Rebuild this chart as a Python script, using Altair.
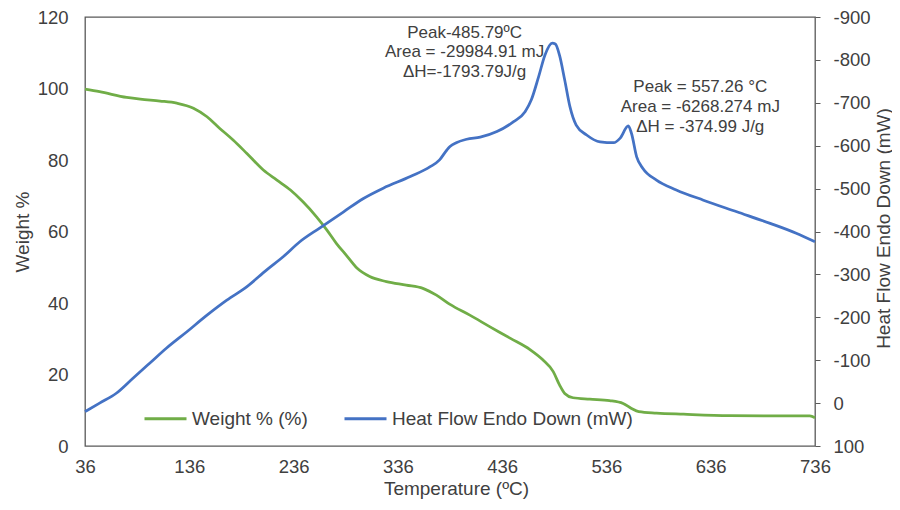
import altair as alt
import pandas as pd

FONT = "Liberation Sans"
GREEN = "#70AD47"
BLUE = "#4472C4"
TXT = "#404040"

# Weight % curve (temperature in °C, weight %)
temp_w = [36, 50, 76, 89, 108, 124, 140, 153, 165, 178,
          191, 207, 220, 233, 245, 258, 268, 277, 287, 297,
          309, 325, 344, 360, 373, 386, 405, 424, 444, 463,
          475, 485, 491, 496, 504, 520, 539, 552, 560, 567,
          584, 610, 654, 705, 731, 736]
weight = [99.8, 99.1, 97.5, 97.0, 96.5, 95.9, 94.5, 92.1, 88.9, 85.6,
          81.9, 77.2, 74.4, 71.6, 68.3, 64.1, 60.4, 56.7, 53.2, 49.7,
          47.4, 46.0, 45.0, 44.1, 42.2, 39.6, 36.6, 33.4, 30.1, 26.9,
          24.1, 20.8, 17.1, 14.7, 13.5, 13.1, 12.7, 11.9, 10.5, 9.6,
          9.2, 8.9, 8.5, 8.4, 8.4, 7.9]

# Heat flow curve (temperature in °C, mW)
temp_h = [36, 50, 66, 82, 98, 114, 134, 153, 172, 191,
          210, 226, 242, 261, 284, 303, 322, 348, 367, 376,
          383, 386, 392, 402, 415, 431, 447, 458, 464, 471,
          477, 484, 487, 491, 496, 501, 507, 517, 530, 543,
          549, 557, 560, 565, 571, 584, 603, 629, 661, 693,
          718, 736]
heat = [20, 0, -23, -58, -93, -128, -167, -205, -240, -271,
        -310, -341, -376, -408, -446, -477, -501, -528, -551, -567,
        -590, -598, -607, -615, -620, -633, -656, -679, -707, -761,
        -811, -839, -837, -811, -753, -691, -648, -625, -609, -607,
        -617, -646, -629, -574, -547, -520, -497, -473, -446, -419,
        -396, -376]

series_names = ["Weight % (%)", "Heat Flow Endo Down (mW)"]

x_ticks = [36, 136, 236, 336, 436, 536, 636, 736]
w_ticks = [0, 20, 40, 60, 80, 100, 120]
h_ticks = [-900, -800, -700, -600, -500, -400, -300, -200, -100, 0, 100]

# Annotations (anchored in temperature / weight % units)
ann_text = ["Peak-485.79ºC", "Area = -29984.91 mJ", "ΔH=-1793.79J/g",
            "Peak = 557.26 °C", "Area = -6268.274 mJ", "ΔH = -374.99 J/g"]
ann_t = [400, 400, 400, 626, 626, 626]
ann_w = [115.5, 110.1, 104.6, 100.3, 94.7, 89.1]

wdf = pd.DataFrame({"T": temp_w, "W": weight, "series": series_names[0]})
hdf = pd.DataFrame({"T": temp_h, "HF": heat, "series": series_names[1]})
adf = pd.DataFrame({"T": ann_t, "W": ann_w, "label": ann_text})

xscale = alt.Scale(domain=[36, 736], nice=False, zero=False)
xaxis = alt.Axis(values=x_ticks, title="Temperature (ºC)", labelFlush=False,
                 labelOverlap=False, ticks=False, domain=False, grid=False,
                 labelPadding=11, titleX=371, titleY=42, titleBaseline="middle")

color = alt.Color(
    "series:N",
    scale=alt.Scale(domain=series_names, range=[GREEN, BLUE]),
    legend=alt.Legend(title=None, orient="none", legendX=58, legendY=379,
                      direction="horizontal", symbolType="stroke",
                      symbolSize=1764, symbolStrokeWidth=3, labelFontSize=19,
                      labelLimit=400, columnPadding=30, padding=0,
                      labelColor=TXT, labelFont=FONT, labelOffset=4),
)

weight_line = alt.Chart(wdf).mark_line(strokeWidth=2.75, interpolate="monotone").encode(
    x=alt.X("T:Q", scale=xscale, axis=xaxis),
    y=alt.Y("W:Q", scale=alt.Scale(domain=[0, 120], nice=False),
            axis=alt.Axis(values=w_ticks, title="Weight %", ticks=False,
                          domain=False, grid=False, labelPadding=17,
                          labelOverlap=False, titleX=-63, titleY=214.5,
                          titleBaseline="middle", titleAngle=270)),
    color=color,
)

ann = alt.Chart(adf).mark_text(fontSize=17, align="center", baseline="middle",
                               color=TXT, font=FONT).encode(
    x=alt.X("T:Q", scale=xscale),
    y=alt.Y("W:Q"),
    text="label:N",
)

heat_line = alt.Chart(hdf).mark_line(strokeWidth=2.75, interpolate="monotone").encode(
    x=alt.X("T:Q", scale=xscale, axis=xaxis),
    y=alt.Y("HF:Q", scale=alt.Scale(domain=[-900, 100], nice=False, zero=False, reverse=True),
            axis=alt.Axis(orient="right", values=h_ticks,
                          title="Heat Flow Endo Down (mW)", ticks=True,
                          tickSize=5, tickColor="#595959", domain=False,
                          grid=False, labelPadding=13, labelOverlap=False,
                          labelExpr="'' + datum.value",
                          titleX=68, titleY=211, titleAngle=270,
                          titleBaseline="middle")),
    color=color,
)

left = alt.layer(weight_line, ann)

chart = (
    alt.layer(left, heat_line)
    .resolve_scale(y="independent")
    .properties(width=730, height=429,
                autosize=alt.AutoSizeParams(type="none"),
                padding={"left": 77, "top": 9, "right": 77, "bottom": 56})
    .configure_view(stroke="#595959", strokeWidth=1.3)
    .configure_axis(labelFont=FONT, titleFont=FONT, labelFontSize=18.5,
                    titleFontSize=19, labelColor=TXT, titleColor=TXT,
                    titleFontWeight="normal")
)

chart.save("out.html", embed_options={"renderer": "svg", "actions": False})
